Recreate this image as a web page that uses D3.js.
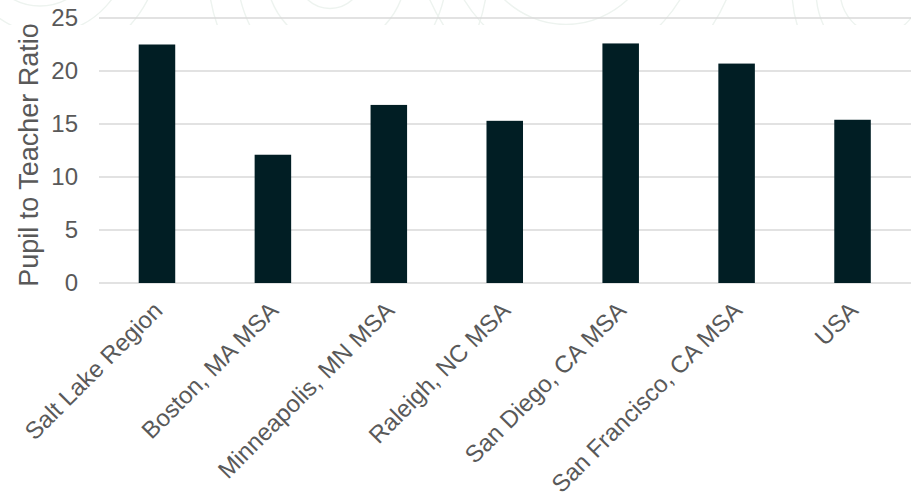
<!DOCTYPE html>
<html>
<head>
<meta charset="utf-8">
<script src="https://cdn.jsdelivr.net/npm/d3@7"></script>
<style>
  html, body { margin: 0; padding: 0; background: #ffffff; }
  svg { display: block; }
  text { font-family: "Liberation Sans", Arial, sans-serif; fill: #595959; }
</style>
</head>
<body>
<svg id="chart" width="911" height="495"></svg>
<script>
// Pupil-to-teacher ratio by region
const regions = ["Salt Lake Region", "Boston, MA MSA", "Minneapolis, MN MSA", "Raleigh, NC MSA",
                 "San Diego, CA MSA", "San Francisco, CA MSA", "USA"];
const ratios = [22.5, 12.1, 16.8, 15.3, 22.6, 20.7, 15.4];
const yTicks = [0, 5, 10, 15, 20, 25];
const axisTitle = "Pupil to Teacher Ratio";

// Faint contour rings of the decorative backdrop: centre x, centre y, radii
const contourCx = [40, 330, 560, 880];
const contourCy = [-60, -30, -80, -10];
const contourR  = [[60, 85, 110], [35, 70, 105, 140], [60, 95, 130, 165], [40, 70, 100]];

const W = 911, H = 495;
const svg = d3.select("#chart");

const x = d3.scaleBand().domain(regions).range([99, 910.5]).paddingInner(0.685).paddingOuter(0.3425);
const y = d3.scaleLinear().domain([0, 25]).range([283, 18]);

// decorative backdrop along the top edge
svg.append("clipPath").attr("id", "topClip")
  .append("rect").attr("x", 0).attr("y", 0).attr("width", W).attr("height", 25);
const deco = svg.append("g").attr("clip-path", "url(#topClip)")
  .attr("fill", "none").attr("stroke", "#edf3ef").attr("stroke-width", 1.4);
contourCx.forEach((cx, i) => {
  contourR[i].forEach((r, j) => {
    deco.append("ellipse")
      .attr("cx", cx + j * 6).attr("cy", contourCy[i])
      .attr("rx", r).attr("ry", r * 1.1);
  });
});

// gridlines
svg.append("g")
  .selectAll("line").data(yTicks).join("line")
  .attr("x1", 99).attr("x2", W)
  .attr("y1", d => y(d)).attr("y2", d => y(d))
  .attr("stroke", "#d9d9d9").attr("stroke-width", 1.5);

// y tick labels
const yAxis = svg.append("g").attr("transform", "translate(99,0)")
  .call(d3.axisLeft(y).tickValues(yTicks).tickSize(0).tickPadding(21));
yAxis.select(".domain").remove();
yAxis.selectAll("text")
  .attr("font-size", 24).attr("fill", "#595959")
  .style("font-family", "'Liberation Sans', Arial, sans-serif");

// bars
svg.append("g")
  .selectAll("rect").data(regions).join("rect")
  .attr("x", d => x(d))
  .attr("width", x.bandwidth())
  .attr("y", (d, i) => y(ratios[i]))
  .attr("height", (d, i) => y(0) - y(ratios[i]))
  .attr("fill", "#011e24");

// x tick labels, rotated
const xAxis = svg.append("g").attr("transform", "translate(0,283)")
  .call(d3.axisBottom(x).tickSize(0).tickPadding(0));
xAxis.select(".domain").remove();
xAxis.selectAll("text")
  .attr("font-size", 24).attr("fill", "#595959")
  .style("font-family", "'Liberation Sans', Arial, sans-serif")
  .attr("text-anchor", "end")
  .attr("dy", 0).attr("y", 0)
  .attr("transform", "translate(7,29) rotate(-45)");

// y axis title
svg.append("text")
  .attr("transform", "translate(37.5,155) rotate(-90)")
  .attr("text-anchor", "middle")
  .attr("font-size", 27)
  .text(axisTitle);
</script>
</body>
</html>
